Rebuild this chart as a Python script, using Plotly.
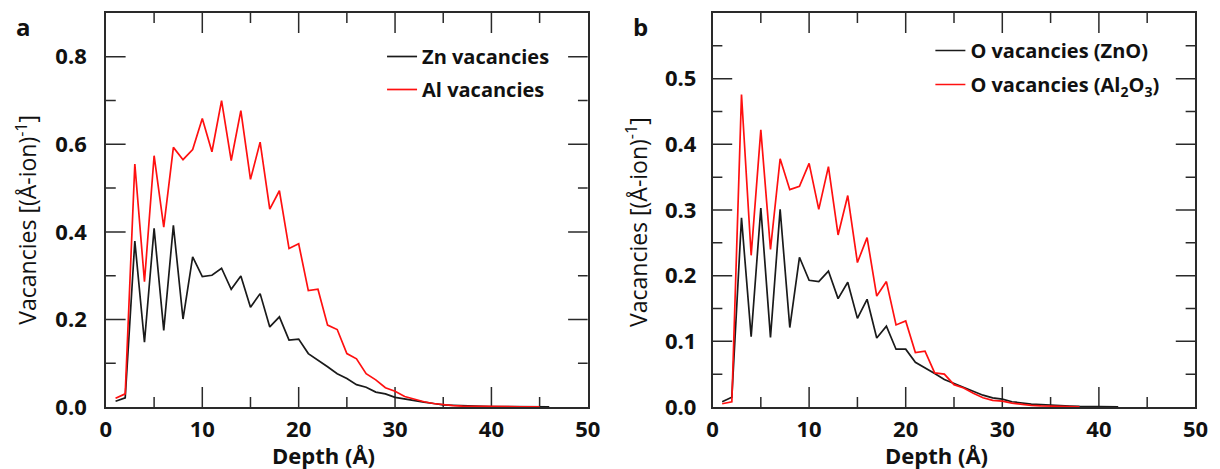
import plotly.graph_objects as go

# ---------------- data ----------------
depth_zn = list(range(1, 47))
zn_vac = [0.013, 0.021, 0.379, 0.148, 0.408, 0.175, 0.415, 0.201, 0.343, 0.298,
          0.301, 0.317, 0.269, 0.299, 0.228, 0.259, 0.183, 0.206, 0.153, 0.155,
          0.122, 0.108, 0.092, 0.076, 0.065, 0.051, 0.045, 0.034, 0.030, 0.022,
          0.018, 0.014, 0.011, 0.008, 0.005, 0.004, 0.003, 0.002, 0.0015, 0.001,
          0.001, 0.0008, 0.0006, 0.0005, 0.0004, 0.0003]

depth_al = list(range(1, 46))
al_vac = [0.020, 0.030, 0.555, 0.286, 0.574, 0.411, 0.593, 0.565, 0.588, 0.659,
          0.583, 0.700, 0.563, 0.677, 0.520, 0.605, 0.452, 0.494, 0.362, 0.373,
          0.266, 0.269, 0.187, 0.177, 0.122, 0.110, 0.076, 0.062, 0.044, 0.036,
          0.024, 0.018, 0.012, 0.008, 0.005, 0.003, 0.002, 0.0015, 0.001, 0.001,
          0.0008, 0.0006, 0.0005, 0.0004, 0.0003]

depth_o_zno = list(range(1, 43))
o_zno = [0.008, 0.015, 0.288, 0.107, 0.303, 0.106, 0.301, 0.121, 0.228, 0.193,
         0.191, 0.207, 0.165, 0.190, 0.135, 0.164, 0.105, 0.123, 0.088, 0.088,
         0.068, 0.060, 0.051, 0.042, 0.036, 0.029, 0.024, 0.018, 0.014, 0.012,
         0.008, 0.006, 0.0045, 0.0035, 0.0025, 0.002, 0.0015, 0.001, 0.0008, 0.0006,
         0.0005, 0.0004]

depth_o_al2o3 = list(range(1, 39))
o_al2o3 = [0.005, 0.008, 0.476, 0.231, 0.422, 0.240, 0.378, 0.331, 0.336, 0.371,
           0.301, 0.366, 0.262, 0.322, 0.220, 0.258, 0.169, 0.191, 0.125, 0.131,
           0.083, 0.085, 0.052, 0.050, 0.034, 0.029, 0.021, 0.014, 0.010, 0.009,
           0.006, 0.004, 0.0025, 0.0018, 0.0012, 0.0008, 0.0005, 0.0003]

x_range = [0, 50]
y_range_a = [0, 0.9]
y_range_b = [0, 0.6]
x_major = [10, 20, 30, 40]
x_minor = [5, 15, 25, 35, 45]
ya_major = [0.2, 0.4, 0.6, 0.8]
ya_minor = [0.1, 0.3, 0.5, 0.7]
yb_major = [0.1, 0.2, 0.3, 0.4, 0.5]
yb_minor = [0.05, 0.15, 0.25, 0.35, 0.45, 0.55]

# ---------------- styling ----------------
FONT = "Open Sans"
AX = "#2a2a2a"
BLACK = "#1a1a1a"
RED = "#ff1010"
W, H = 1220, 469
T, B = 13, 62
ph = H - T - B
MAJ, MIN = 20, 10  # tick lengths in pixels

dom_a = [101.5 / W, 591 / W]
dom_b = [717.7 / W, 1208.3 / W]


def py(y):
    return (H - B - y) / ph


fig = go.Figure()


def add_ticks(xa, ya, xr, yr, dom, xmaj, xmin, ymaj, ymin):
    """Inside tick marks on all four sides, converted from pixels via the axis ranges."""
    pw = (dom[1] - dom[0]) * W
    ux = (xr[1] - xr[0]) / pw
    uy = (yr[1] - yr[0]) / ph
    xs, ys = [], []
    for vals, ln in ((xmaj, MAJ), (xmin, MIN)):
        for v in vals:
            xs += [v, v, None, v, v, None]
            ys += [yr[0], yr[0] + ln * uy, None, yr[1], yr[1] - ln * uy, None]
    for vals, ln in ((ymaj, MAJ), (ymin, MIN)):
        for v in vals:
            xs += [xr[0], xr[0] + ln * ux, None, xr[1], xr[1] - ln * ux, None]
            ys += [v, v, None, v, v, None]
    fig.add_trace(go.Scatter(x=xs, y=ys, mode="lines", line=dict(color=AX, width=1.5),
                             showlegend=False, hoverinfo="skip", xaxis=xa, yaxis=ya,
                             connectgaps=False))


add_ticks("x", "y", x_range, y_range_a, dom_a, x_major, x_minor, ya_major, ya_minor)
add_ticks("x2", "y2", x_range, y_range_b, dom_b, x_major, x_minor, yb_major, yb_minor)

fig.add_trace(go.Scatter(x=depth_zn, y=zn_vac, mode="lines", name="Zn vacancies",
                         line=dict(color=BLACK, width=1.7), legend="legend",
                         legendgroup="a1", xaxis="x", yaxis="y"))
fig.add_trace(go.Scatter(x=depth_al, y=al_vac, mode="lines", name="Al vacancies",
                         line=dict(color=RED, width=1.7), legend="legend",
                         legendgroup="a2", xaxis="x", yaxis="y"))
fig.add_trace(go.Scatter(x=depth_o_zno, y=o_zno, mode="lines", name="O vacancies (ZnO)",
                         line=dict(color=BLACK, width=1.7), legend="legend2",
                         legendgroup="b1", xaxis="x2", yaxis="y2"))
fig.add_trace(go.Scatter(x=depth_o_al2o3, y=o_al2o3, mode="lines",
                         name="O vacancies (Al<sub>2</sub>O<sub>3</sub>)",
                         line=dict(color=RED, width=1.7), legend="legend2",
                         legendgroup="b2", xaxis="x2", yaxis="y2"))

tickfont = dict(family=FONT, size=22, color="#111", weight="bold")
major = dict(showline=True, linecolor=AX, linewidth=1.5, mirror=True,
             ticks="", showgrid=False, zeroline=False, tickmode="linear", tick0=0,
             tickfont=tickfont, fixedrange=True)

fig.update_layout(
    xaxis=dict(**major, domain=dom_a, anchor="y", range=x_range, dtick=10, ticklabelstandoff=2),
    yaxis=dict(**major, domain=[0, 1], anchor="x", range=y_range_a, dtick=0.2,
               tickformat=".1f", ticklabelstandoff=13),
    xaxis2=dict(**major, domain=dom_b, anchor="y2", range=x_range, dtick=10, ticklabelstandoff=2),
    yaxis2=dict(**major, domain=[0, 1], anchor="x2", range=y_range_b, dtick=0.1,
                tickformat=".1f", ticklabelstandoff=10),
)

annot_font = dict(family=FONT, size=22, color="#111", weight="bold")
title_font = dict(family=FONT, size=23, color="#111")
annots = [
    dict(text="a", x=18 / W, y=py(26), font=dict(family=FONT, size=24, color="#111", weight="bold")),
    dict(text="b", x=645 / W, y=py(26), font=dict(family=FONT, size=24, color="#111", weight="bold")),
    dict(text="Depth (Å)", x=323 / W, y=py(455), font=annot_font),
    dict(text="Depth (Å)", x=945 / W, y=py(455), font=annot_font),
    dict(text="Vacancies [(Å-ion)<sup>-1</sup>]", x=21 / W, y=py(220), textangle=-90,
         font=title_font),
    dict(text="Vacancies [(Å-ion)<sup>-1</sup>]", x=641 / W, y=py(222), textangle=-90,
         font=title_font),
]
for a in annots:
    a.update(xref="paper", yref="paper", showarrow=False, xanchor="center", yanchor="middle")

legend_font = dict(family=FONT, size=20, color="#111", weight="bold")
fig.update_layout(
    width=W, height=H,
    margin=dict(l=0, r=0, t=T, b=B),
    paper_bgcolor="white", plot_bgcolor="white",
    annotations=annots,
    legend=dict(x=382 / W, y=py(37), xanchor="left", yanchor="top",
                font=legend_font, bgcolor="rgba(0,0,0,0)", tracegroupgap=4,
                itemwidth=30),
    legend2=dict(x=939 / W, y=py(31), xanchor="left", yanchor="top",
                 font=legend_font, bgcolor="rgba(0,0,0,0)", tracegroupgap=5,
                 itemwidth=30),
)

fig.write_html("out.html")
